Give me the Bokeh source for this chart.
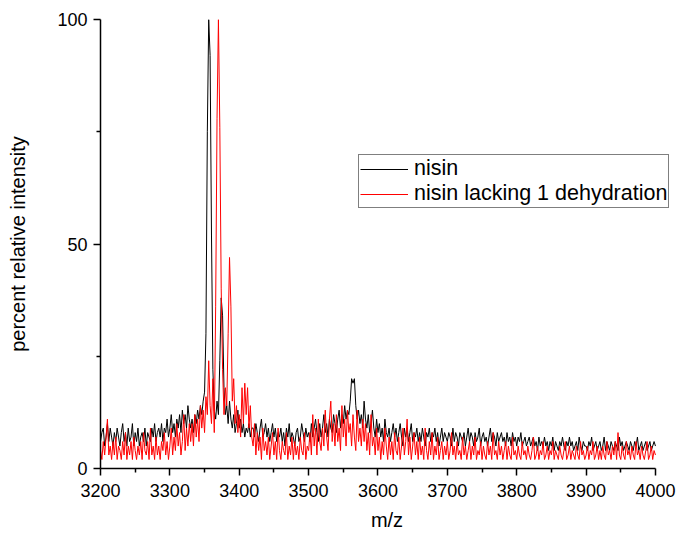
import numpy as np
from bokeh.plotting import figure
from bokeh.models import Range1d, FixedTicker, Legend, LegendItem
from bokeh.embed import file_html
from bokeh.resources import INLINE

# ---- data (percent relative intensity) ----
# segment a: m/z 3200..3328 every 2
black_a = [6, 8, 9, 5, 7, 10, 6, 9, 7, 5,
           8, 6, 9, 7, 5, 8, 10, 6, 8, 5,
           9, 6, 7, 10, 5, 8, 6, 9, 5, 7,
           8, 6, 9, 5, 8, 7, 6, 9, 7, 10,
           6, 8, 9, 7, 10, 6, 9, 8, 11, 7,
           9, 12, 8, 10, 7, 11, 9, 12, 8, 13,
           10, 12, 9, 14, 11]
red_a = [4, 2, 6, 3, 7, 11, 3, 5, 2, 6,
         3, 7, 2, 5, 4, 2, 6, 3, 8, 2,
         5, 3, 6, 2, 7, 4, 2, 5, 3, 6,
         2, 8, 4, 3, 6, 2, 9, 3, 5, 2,
         7, 3, 5, 2, 6, 4, 8, 3, 6, 2,
         5, 9, 3, 7, 4, 10, 5, 8, 3, 6,
         12, 4, 9, 5, 10]
# segment b: m/z 3330..3418 every 2 (peak region)
black_b = [9, 11, 8, 12, 10, 13, 11, 14, 12, 15,
           17, 30, 75, 100, 92, 52, 22, 13, 11, 15,
           12, 24, 38, 34, 18, 12, 14, 10, 15, 11,
           9, 12, 8, 10, 13, 9, 11, 8, 10, 7,
           9, 8, 10, 7, 9]
red_b = [6, 10, 5, 12, 7, 11, 6, 14, 9, 13,
         8, 16, 12, 24, 14, 10, 20, 8, 36, 78,
         100, 76, 40, 22, 12, 18, 14, 30, 47, 36,
         15, 20, 10, 14, 8, 12, 7, 18, 10, 19,
         12, 18, 9, 14, 7]
# segment c: m/z 3420..4000 every 2
black_c = [9, 7, 10, 8, 6, 9, 11, 7, 8, 10,
           7, 9, 6, 8, 10, 7, 9, 6, 8, 7,
           9, 6, 8, 5, 9, 7, 10, 6, 8, 7,
           5, 8, 9, 6, 7, 10, 8, 6, 9, 7,
           8, 6, 10, 7, 9, 11, 8, 6, 10, 7,
           9, 12, 8, 10, 7, 11, 9, 8, 12, 10,
           8, 11, 13, 9, 12, 10, 14, 11, 13, 12,
           15, 20, 19, 20, 14, 11, 13, 10, 12, 9,
           15, 11, 9, 12, 8, 10, 13, 9, 7, 11,
           8, 10, 7, 9, 6, 11, 8, 7, 9, 6,
           8, 10, 7, 9, 6, 8, 10, 7, 5, 9,
           7, 9, 6, 8, 10, 6, 8, 7, 9, 6,
           8, 6, 9, 7, 5, 8, 7, 9, 6, 8,
           7, 9, 6, 8, 5, 7, 9, 6, 8, 7,
           6, 8, 7, 5, 9, 6, 8, 7, 5, 8,
           7, 6, 8, 5, 7, 9, 6, 8, 7, 5,
           8, 6, 7, 9, 5, 7, 8, 6, 7, 5,
           7, 9, 6, 8, 7, 5, 8, 6, 7, 8,
           6, 7, 5, 8, 6, 7, 5, 8, 6, 7,
           5, 7, 6, 8, 5, 6, 7, 5, 6, 7,
           5, 6, 7, 5, 6, 4, 7, 5, 6, 5,
           7, 5, 6, 4, 6, 5, 7, 4, 6, 5,
           4, 6, 5, 7, 5, 4, 6, 5, 7, 5,
           6, 4, 5, 6, 4, 7, 5, 4, 6, 5,
           5, 4, 6, 5, 7, 4, 5, 6, 4, 5,
           6, 4, 5, 7, 4, 6, 5, 4, 6, 5,
           4, 6, 5, 4, 7, 5, 6, 4, 5, 6,
           5, 4, 6, 5, 4, 6, 5, 7, 4, 5,
           6, 4, 5, 6, 4, 5, 6, 4, 5, 6,
           5]
red_c = [5, 10, 3, 8, 4, 7, 2, 9, 4, 6,
         3, 7, 2, 5, 8, 3, 6, 2, 9, 4,
         2, 6, 4, 3, 8, 2, 5, 3, 7, 2,
         6, 3, 5, 2, 7, 4, 3, 8, 2, 5,
         4, 8, 3, 12, 5, 9, 3, 11, 6, 4,
         9, 5, 13, 7, 4, 11, 15, 6, 10, 5,
         12, 6, 9, 4, 14, 7, 11, 5, 13, 8,
         10, 5, 12, 7, 4, 13, 6, 9, 5, 11,
         6, 10, 4, 8, 3, 12, 5, 7, 3, 9,
         4, 7, 2, 6, 3, 9, 5, 2, 7, 3,
         6, 2, 8, 4, 3, 7, 2, 5, 9, 3,
         6, 11, 3, 7, 2, 5, 8, 3, 6, 2,
         7, 3, 5, 2, 9, 4, 2, 6, 3, 8,
         2, 5, 3, 7, 2, 4, 6, 2, 5, 3,
         6, 2, 4, 8, 3, 5, 2, 6, 3, 4,
         2, 7, 3, 5, 2, 4, 6, 2, 5, 3,
         7, 2, 4, 3, 6, 2, 5, 3, 2, 6,
         3, 5, 2, 8, 3, 4, 2, 6, 3, 5,
         2, 4, 6, 2, 5, 3, 2, 7, 3, 4,
         2, 5, 3, 2, 6, 3, 4, 2, 5, 3,
         2, 4, 7, 2, 3, 5, 2, 4, 3, 6,
         2, 3, 5, 2, 4, 3, 6, 2, 4, 3,
         2, 5, 3, 2, 4, 6, 2, 3, 5, 2,
         4, 3, 2, 5, 3, 2, 6, 3, 4, 2,
         3, 5, 2, 4, 3, 6, 2, 3, 5, 2,
         4, 2, 5, 3, 2, 6, 3, 4, 2, 5,
         3, 6, 2, 8, 3, 2, 5, 3, 2, 6,
         3, 4, 2, 5, 3, 2, 6, 3, 4, 2,
         5, 3, 2, 4, 6, 2, 3, 5, 2, 4,
         3]

x_ticks = [3200, 3300, 3400, 3500, 3600, 3700, 3800, 3900, 4000]
x_minor = [3250, 3350, 3450, 3550, 3650, 3750, 3850, 3950]
y_ticks = [0, 50, 100]
y_minor = [25, 75]
series_names = ["nisin", "nisin lacking 1 dehydration"]

mz_a = 3200 + 2 * np.arange(len(black_a))
mz_b = 3330 + 2 * np.arange(len(black_b))
mz_c = 3420 + 2 * np.arange(len(black_c))
mz = np.concatenate([mz_a, mz_b, mz_c])
black = np.concatenate([black_a, black_b, black_c])
red = np.concatenate([red_a, red_b, red_c])

p = figure(width=678, height=533, output_backend="svg", toolbar_location=None,
           x_range=Range1d(3200, 4026), y_range=Range1d(0, 100),
           min_border_left=100, min_border_right=5, min_border_top=19,
           min_border_bottom=65)
p.outline_line_color = None
p.xgrid.visible = False
p.ygrid.visible = False
p.background_fill_color = "white"
p.border_fill_color = "white"

r1 = p.line(mz, black, line_color="black", line_width=1)
r2 = p.line(mz, red, line_color="#ff0000", line_width=1)

p.xaxis.ticker = FixedTicker(ticks=x_ticks, minor_ticks=x_minor)
p.yaxis.ticker = FixedTicker(ticks=y_ticks, minor_ticks=y_minor)
p.xaxis.bounds = (3200, 4000)
for ax in (p.xaxis, p.yaxis):
    ax.axis_line_color = "black"
    ax.axis_line_width = 1.5
    ax.major_tick_line_color = "black"
    ax.major_tick_line_width = 1.5
    ax.minor_tick_line_color = "black"
    ax.minor_tick_line_width = 1.5
    ax.major_tick_in = 0
    ax.major_tick_out = 7
    ax.minor_tick_in = 0
    ax.minor_tick_out = 4
    ax.major_label_text_font = "Liberation Sans"
    ax.major_label_text_font_size = "18px"
    ax.major_label_text_color = "black"
    ax.axis_label_text_font = "Liberation Sans"
    ax.axis_label_text_font_size = "20px"
    ax.axis_label_text_font_style = "normal"
    ax.axis_label_text_color = "black"
p.xaxis.axis_label = "m/z"
p.yaxis.axis_label = "percent relative intensity"
p.xaxis.major_label_standoff = 8
p.yaxis.major_label_standoff = 6
p.xaxis.axis_label_standoff = 9
p.yaxis.axis_label_standoff = 25

legend = Legend(items=[LegendItem(label=series_names[0], renderers=[r1]),
                       LegendItem(label=series_names[1], renderers=[r2])],
                location=(258, 260))
legend.label_text_font = "Liberation Sans"
legend.label_text_font_size = "21.5px"
legend.label_text_color = "black"
legend.glyph_width = 48
legend.glyph_height = 20
legend.label_height = 20
legend.label_standoff = 6
legend.spacing = 0
legend.padding = 1
legend.margin = 0
legend.border_line_color = "black"
legend.border_line_width = 1
legend.background_fill_alpha = 1
p.add_layout(legend, "center")

open("out.html", "w").write(file_html(p, INLINE))
